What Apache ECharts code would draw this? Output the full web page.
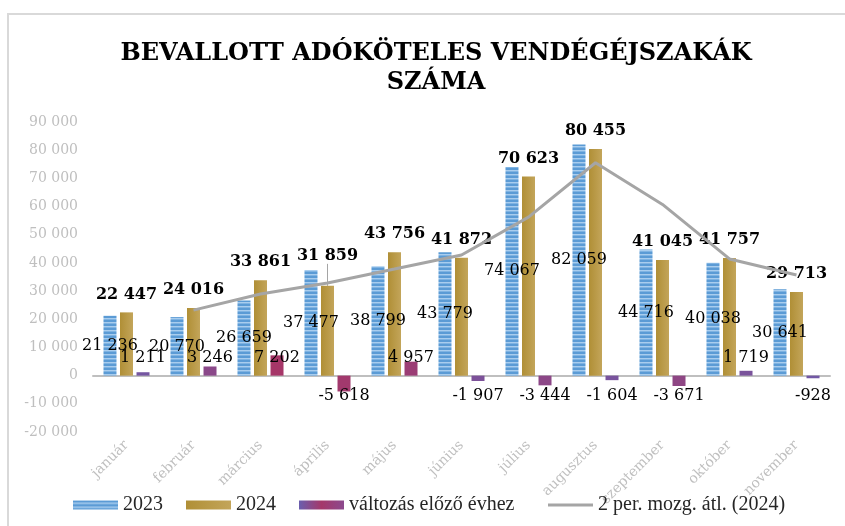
<!DOCTYPE html>
<html>
<head>
<meta charset="utf-8">
<script src="https://cdn.jsdelivr.net/npm/echarts@6/dist/echarts.min.js"></script>
<style>
  html, body { margin: 0; padding: 0; background: #fff; }
  #main { width: 845px; height: 526px; }
</style>
</head>
<body>
<div id="main"></div>
<script>
// adatok
const months = ['január', 'február', 'március', 'április', 'május', 'június',
  'július', 'augusztus', 'szeptember', 'október', 'november']
const y2023 = [21236, 20770, 26659, 37477, 38799, 43779, 74067, 82059, 44716, 40038, 30641]
const y2024 = [22447, 24016, 33861, 31859, 43756, 41872, 70623, 80455, 41045, 41757, 29713]
const change = [1211, 3246, 7202, -5618, 4957, -1907, -3444, -1604, -3671, 1719, -928]
const movAvg = [null, 23232, 28939, 32860, 37808, 42814, 56248, 75539, 60750, 41401, 35735]

const serif = '"DejaVu Serif", "Liberation Serif", serif'
const legendFont = '"Liberation Serif", serif'

function fmt(v) {
  const s = String(Math.abs(v)).replace(/\B(?=(\d{3})+(?!\d))/g, ' ')
  return (v < 0 ? '-' : '') + s
}

// csíkos kék minta
const stripe = document.createElement('canvas')
stripe.width = 4
stripe.height = 4
const sctx = stripe.getContext('2d')
sctx.fillStyle = '#5b9bd5'
sctx.fillRect(0, 0, 4, 2)
sctx.fillStyle = '#a9cdee'
sctx.fillRect(0, 2, 4, 1)
sctx.fillStyle = '#7fb3e2'
sctx.fillRect(0, 3, 4, 1)

// lila -> bíbor a változás nagysága szerint
function changeColor(v) {
  const t = Math.min(Math.abs(v) / 6000, 1)
  const a = [104, 94, 176], b = [166, 54, 104]
  const c = a.map((x, i) => Math.round(x + (b[i] - x) * t))
  return 'rgb(' + c.join(',') + ')'
}

const changeData = change.map(v => ({
  value: v,
  itemStyle: { color: changeColor(v) },
  label: v >= 0
    ? { position: 'insideBottom', distance: 10 }
    : { position: 'insideTop', distance: 12 }
}))

// április címkéje feljebb került, vezetővonallal
const data2024 = y2024.map((v, i) => (i === 3 ? { value: v, labelLine: { show: true } } : v))

const myChart = echarts.init(document.getElementById('main'))
const option = {
  animation: false,
  title: {
    text: 'BEVALLOTT ADÓKÖTELES VENDÉGÉJSZAKÁK\nSZÁMA',
    left: 431,
    top: 34,
    textAlign: 'center',
    textStyle: {
      fontFamily: serif,
      fontWeight: 'bold',
      fontSize: 24,
      lineHeight: 29,
      color: '#000'
    }
  },
  graphic: [{
    type: 'rect',
    z: -10,
    shape: { x: 8, y: 14, width: 900, height: 600 },
    style: { fill: 'none', stroke: '#d9d9d9', lineWidth: 2 }
  }],
  legend: [
    {
      top: 490,
      left: 68,
      icon: 'rect',
      itemWidth: 45,
      itemHeight: 9,
      itemGap: 23,
      textStyle: { fontFamily: legendFont, fontSize: 20, color: '#262626' },
      data: ['2023', '2024', 'változás előző évhez']
    },
    {
      top: 490,
      left: 543,
      icon: 'rect',
      itemWidth: 45,
      itemHeight: 3,
      textStyle: { fontFamily: legendFont, fontSize: 20, color: '#262626' },
      data: ['2 per. mozg. átl. (2024)']
    }
  ],
  grid: {
    left: 93,
    right: 15,
    top: 122,
    bottom: 94,
    containLabel: false
  },
  xAxis: {
    type: 'category',
    data: months,
    axisLine: { lineStyle: { color: '#bfbfbf', width: 2 } },
    axisTick: { show: false },
    axisLabel: {
      rotate: 45,
      margin: 11,
      color: '#bfbfbf',
      fontFamily: serif,
      fontSize: 14
    }
  },
  yAxis: {
    type: 'value',
    min: -20000,
    max: 90000,
    interval: 10000,
    splitLine: { show: false },
    axisLine: { show: false },
    axisTick: { show: false },
    axisLabel: {
      margin: 15,
      color: '#bfbfbf',
      fontFamily: serif,
      fontSize: 14,
      formatter: fmt
    }
  },
  series: [
    {
      name: '2023',
      type: 'bar',
      barWidth: 13,
      barGap: '27%',
      itemStyle: { color: { image: stripe, repeat: 'repeat' } },
      label: {
        show: true,
        position: 'inside',
        color: '#000',
        textBorderWidth: 0,
        fontFamily: serif,
        fontSize: 16,
        formatter: p => fmt(p.value)
      },
      data: y2023
    },
    {
      name: '2024',
      type: 'bar',
      barWidth: 13,
      barGap: '27%',
      itemStyle: {
        color: new echarts.graphic.LinearGradient(0, 0, 1, 0, [
          { offset: 0, color: '#b08f36' },
          { offset: 1, color: '#c3a55a' }
        ])
      },
      label: {
        show: true,
        position: 'top',
        distance: 10,
        color: '#000',
        fontFamily: serif,
        fontWeight: 'bold',
        fontSize: 16,
        formatter: p => fmt(p.value)
      },
      labelLayout: p => (p.dataIndex === 3 ? { dy: -12 } : {}),
      labelLine: { show: false, lineStyle: { color: '#a5a5a5', width: 1 } },
      data: data2024
    },
    {
      name: 'változás előző évhez',
      type: 'bar',
      barWidth: 13,
      barGap: '27%',
      itemStyle: {
        color: new echarts.graphic.LinearGradient(0, 0, 1, 0, [
          { offset: 0, color: '#6a5eae' },
          { offset: 0.5, color: '#a5386a' },
          { offset: 1, color: '#8c4a8e' }
        ])
      },
      label: {
        show: true,
        color: '#000',
        textBorderWidth: 0,
        fontFamily: serif,
        fontSize: 16,
        formatter: p => fmt(p.value)
      },
      data: changeData
    },
    {
      name: '2 per. mozg. átl. (2024)',
      type: 'line',
      symbol: 'none',
      smooth: false,
      z: 5,
      lineStyle: { color: '#a5a5a5', width: 3 },
      itemStyle: { color: '#a5a5a5' },
      data: movAvg
    }
  ]
}
option && myChart.setOption(option)
</script>
</body>
</html>
